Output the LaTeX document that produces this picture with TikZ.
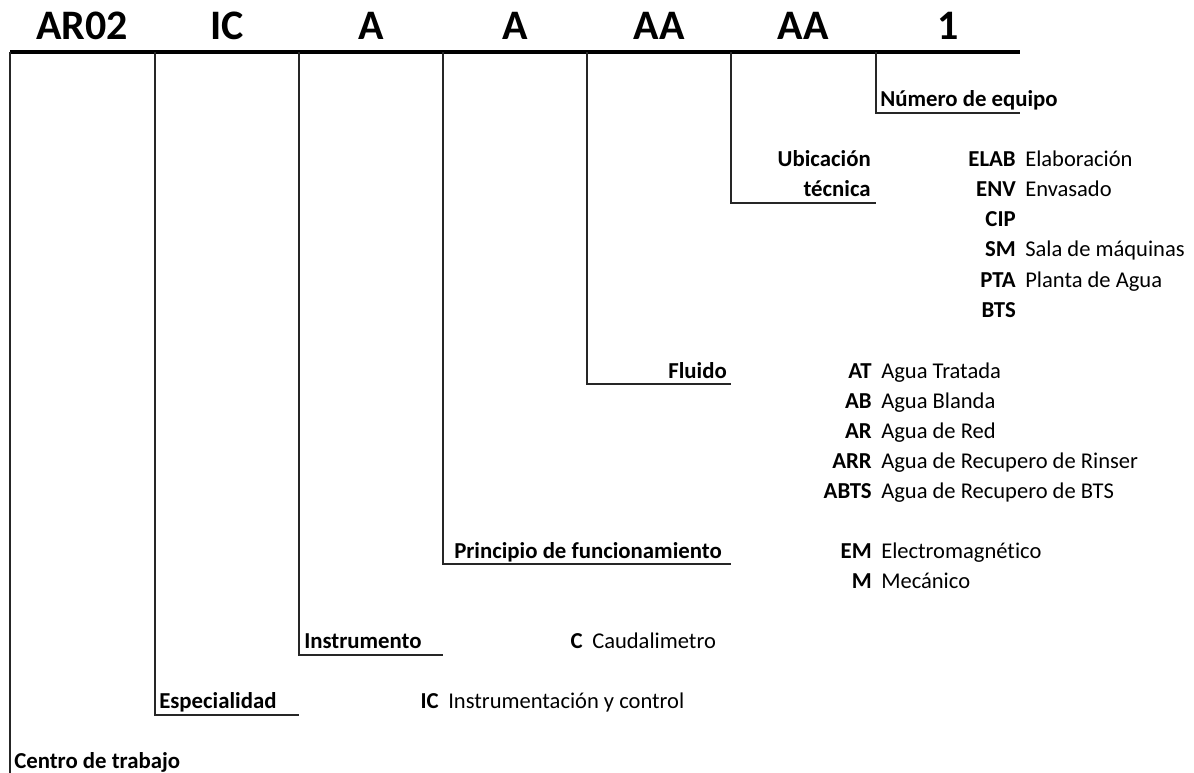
\documentclass[tikz,border=0pt]{standalone}
\usepackage{fontspec}
\setmainfont{Carlito}[Ligatures={NoCommon}]
\begin{document}
\begin{tikzpicture}[x=0.75pt,y=-0.75pt,
  hdr/.style={font=\fontsize{31.5}{36}\selectfont\bfseries, anchor=base, inner sep=0pt},
  lblw/.style={font=\fontsize{17.1}{20}\selectfont\bfseries, anchor=base west, inner sep=0pt},
  lble/.style={font=\fontsize{17.1}{20}\selectfont\bfseries, anchor=base east, inner sep=0pt},
  lblc/.style={font=\fontsize{17.1}{20}\selectfont\bfseries, anchor=base, inner sep=0pt},
  code/.style={font=\fontsize{17.1}{20}\selectfont\bfseries, anchor=base east, inner sep=0pt},
  desc/.style={font=\fontsize{16.9}{20}\selectfont, anchor=base west, inner sep=0pt},
  topline/.style={line width=2.4pt, black},
  leg/.style={line width=0.8pt, black!85}]
\useasboundingbox (0,0) rectangle (1194,773);

% header
\node[hdr] (h1) at (82,40) {AR02};
\node[hdr] (h2) at (227,40) {IC};
\node[hdr] (h3) at (371,40) {A};
\node[hdr] (h4) at (515,40) {A};
\node[hdr] (h5) at (659,40) {AA};
\node[hdr] (h6) at (803,40) {AA};
\node[hdr] (h7) at (948,40) {1};

% top line points
\coordinate (t0) at (10,52);
\coordinate (t1) at (155,52);
\coordinate (t2) at (299,52);
\coordinate (t3) at (443,52);
\coordinate (t4) at (587,52);
\coordinate (t5) at (731,52);
\coordinate (t6) at (876,52);
\coordinate (t7) at (1020,52);
\draw[topline] (t0) -- (t7);

% legs
\coordinate (b0) at (10,773);
\coordinate (b1) at (155,715);   \coordinate (e1) at (299,715);
\coordinate (b2) at (299,655);   \coordinate (e2) at (443,655);
\coordinate (b3) at (443,564);   \coordinate (e3) at (731,564);
\coordinate (b4) at (587,384);   \coordinate (e4) at (731,384);
\coordinate (b5) at (731,203);   \coordinate (e5) at (876,203);
\coordinate (b6) at (876,113);   \coordinate (e6) at (1020,113);
\draw[leg] (t0) -- (b0);
\draw[leg] (t1) -- (b1) -- (e1);
\draw[leg] (t2) -- (b2) -- (e2);
\draw[leg] (t3) -- (b3) -- (e3);
\draw[leg] (t4) -- (b4) -- (e4);
\draw[leg] (t5) -- (b5) -- (e5);
\draw[leg] (t6) -- (b6) -- (e6);

% Numero de equipo
\node[lblw] (num) at (880,107) {Número de equipo};

% Ubicacion tecnica
\node[lble] (ub1) at (871,167) {Ubicación};
\node[lble] (ub2) at (871,197) {técnica};
\node[code] (c11) at (1016,167) {ELAB}; \node[desc] (d11) at (1025,167) {Elaboración};
\node[code] (c12) at (1016,197) {ENV};  \node[desc] (d12) at (1025,197) {Envasado};
\node[code] (c13) at (1016,227) {CIP};
\node[code] (c14) at (1016,257) {SM};   \node[desc] (d14) at (1025,257) {Sala de máquinas};
\node[code] (c15) at (1016,287) {PTA};  \node[desc] (d15) at (1025,287) {Planta de Agua};
\node[code] (c16) at (1016,317) {BTS};

% Fluido
\node[lble] (flu) at (727,378) {Fluido};
\node[code] (c21) at (872,378) {AT};   \node[desc] (d21) at (881,378) {Agua Tratada};
\node[code] (c22) at (872,408) {AB};   \node[desc] (d22) at (881,408) {Agua Blanda};
\node[code] (c23) at (872,438) {AR};   \node[desc] (d23) at (881,438) {Agua de Red};
\node[code] (c24) at (872,468) {ARR};  \node[desc] (d24) at (881,468) {Agua de Recupero de Rinser};
\node[code] (c25) at (872,498) {ABTS}; \node[desc] (d25) at (881,498) {Agua de Recupero de BTS};

% Principio de funcionamiento
\node[lblc] (pri) at (588,558) {Principio de funcionamiento};
\node[code] (c31) at (872,558) {EM};   \node[desc] (d31) at (881,558) {Electromagnético};
\node[code] (c32) at (872,588) {M};    \node[desc] (d32) at (881,588) {Mecánico};

% Instrumento
\node[lblw] (ins) at (304,648) {Instrumento};
\node[code] (c41) at (583,648) {C};    \node[desc] (d41) at (592,648) {Caudalimetro};

% Especialidad
\node[lblw] (esp) at (159,708) {Especialidad};
\node[code] (c51) at (439,708) {IC};   \node[desc] (d51) at (448,708) {Instrumentación y control};

% Centro de trabajo
\node[lblw] (cen) at (14,768) {Centro de trabajo};
\end{tikzpicture}
\end{document}
